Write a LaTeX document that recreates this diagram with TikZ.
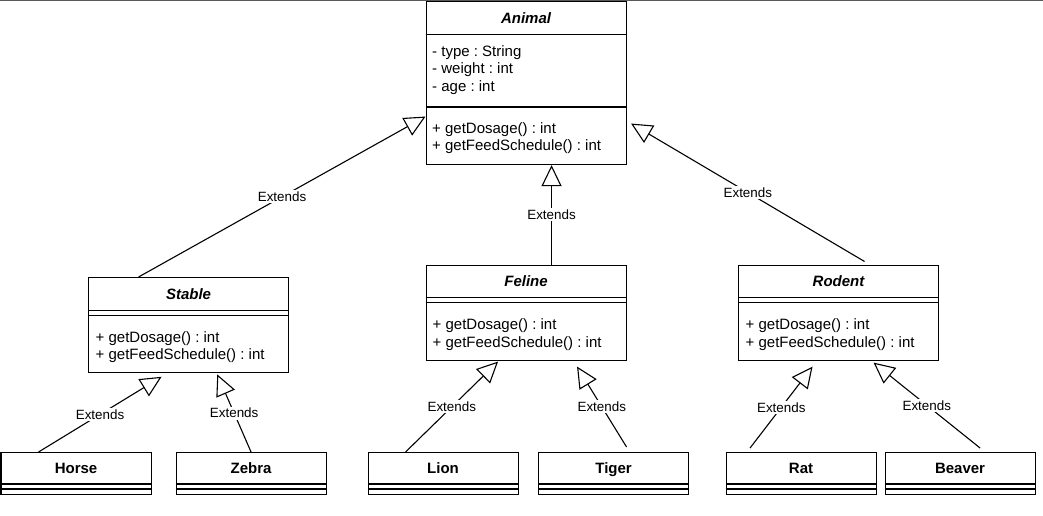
\documentclass[tikz,border=0pt]{standalone}
\usepackage{fontspec}
\setmainfont{Liberation Sans}
\usetikzlibrary{arrows.meta,positioning}
\frenchspacing

\tikzset{
  cls/.style={draw, line width=1.1pt, inner sep=0pt, anchor=north west, minimum width=200pt, minimum height=95pt},
  leaf/.style={cls, minimum width=150pt, minimum height=42pt},
  head/.style={inner sep=0pt, minimum height=33pt, text height=11pt, text depth=0pt, anchor=north, font=\fontsize{15}{18}\selectfont\bfseries\itshape},
  leafhead/.style={head, minimum height=32pt, font=\fontsize{15}{18}\selectfont\bfseries},
  member/.style={inner sep=0pt, anchor=base west, font=\fontsize{15}{18}\selectfont},
  sep/.style={line width=1.1pt},
  ext/.style={line width=1.1pt, -{Triangle[open, length=21pt, width=20pt, line width=1.1pt]}},
  lbl/.style={fill=white, inner sep=1.5pt, font=\fontsize{13.4}{16}\selectfont}
}

\begin{document}
\begin{tikzpicture}[x=1pt, y=-1pt]
\useasboundingbox (0,0) rectangle (1043,516);
\draw [gray!70!black] (0,0.5) -- (1043,0.5);

% Animal
\node [cls, minimum height=163pt] (animal) at (425.5,1) {};
\node [head] (animalhead) at (animal.north) {Animal};
\draw [sep] (animal.west |- animalhead.south) -- (animal.east |- animalhead.south);
\draw [sep] (animal.west |- 0,107) -- (animal.east |- 0,107);
\node [member] (atype) at (432,56.5) {- type : String};
\node [member] (aweight) at (432,74) {- weight : int};
\node [member] (aage) at (432,91.5) {- age : int};
\node [member] (adosage) at (432,133.3) {+ getDosage() : int};
\node [member] (afeed) at (432,150.8) {+ getFeedSchedule() : int};

% Stable
\node [cls] (stable) at (88,277) {};
\node [head] (stablehead) at (stable.north) {Stable};
\draw [sep] (stable.west |- stablehead.south) -- (stable.east |- stablehead.south);
\draw [sep] ([yshift=-5pt]stable.west |- stablehead.south) -- ([yshift=-5pt]stable.east |- stablehead.south);
\node [member] (sdosage) at (95.5,342) {+ getDosage() : int};
\node [member] (sfeed) at (95.5,359.5) {+ getFeedSchedule() : int};

% Feline
\node [cls] (feline) at (425.5,264.5) {};
\node [head] (felinehead) at (feline.north) {Feline};
\draw [sep] (feline.west |- felinehead.south) -- (feline.east |- felinehead.south);
\draw [sep] ([yshift=-5pt]feline.west |- felinehead.south) -- ([yshift=-5pt]feline.east |- felinehead.south);
\node [member] (fdosage) at (432.5,329.5) {+ getDosage() : int};
\node [member] (ffeed) at (432.5,347) {+ getFeedSchedule() : int};

% Rodent
\node [cls] (rodent) at (738,264.5) {};
\node [head] (rodenthead) at (rodent.north) {Rodent};
\draw [sep] (rodent.west |- rodenthead.south) -- (rodent.east |- rodenthead.south);
\draw [sep] ([yshift=-5pt]rodent.west |- rodenthead.south) -- ([yshift=-5pt]rodent.east |- rodenthead.south);
\node [member] (rdosage) at (745.5,329.5) {+ getDosage() : int};
\node [member] (rfeed) at (745.5,347) {+ getFeedSchedule() : int};

% Leaf classes
\node [leaf] (horse) at (0.5,452) {};
\node [leafhead] (horsehead) at (horse.north) {Horse};
\node [leaf] (zebra) at (175.5,452) {};
\node [leafhead] (zebrahead) at (zebra.north) {Zebra};
\node [leaf] (lion) at (367.5,452) {};
\node [leafhead] (lionhead) at (lion.north) {Lion};
\node [leaf] (tiger) at (538,452) {};
\node [leafhead] (tigerhead) at (tiger.north) {Tiger};
\node [leaf] (rat) at (725.5,452) {};
\node [leafhead] (rathead) at (rat.north) {Rat};
\node [leaf] (beaver) at (884.5,452) {};
\node [leafhead] (beaverhead) at (beaver.north) {Beaver};

% double lines under leaf names
\draw [sep] (horse.west |- 0,484) -- (horse.east |- 0,484) (horse.west |- 0,489) -- (horse.east |- 0,489);
\draw [sep] (zebra.west |- 0,484) -- (zebra.east |- 0,484) (zebra.west |- 0,489) -- (zebra.east |- 0,489);
\draw [sep] (lion.west |- 0,484) -- (lion.east |- 0,484) (lion.west |- 0,489) -- (lion.east |- 0,489);
\draw [sep] (tiger.west |- 0,484) -- (tiger.east |- 0,484) (tiger.west |- 0,489) -- (tiger.east |- 0,489);
\draw [sep] (rat.west |- 0,484) -- (rat.east |- 0,484) (rat.west |- 0,489) -- (rat.east |- 0,489);
\draw [sep] (beaver.west |- 0,484) -- (beaver.east |- 0,484) (beaver.west |- 0,489) -- (beaver.east |- 0,489);

% Extends to Animal
\draw [ext] ([xshift=-50pt]stable.north) -- node [lbl] (extstable) {Extends} ([yshift=-33.5pt]animal.west);
\draw [ext] ([xshift=25.5pt]feline.north) -- node [lbl] (extfeline) {Extends} ([xshift=25.5pt]animal.south);
\draw [ext] ([xshift=26pt,yshift=3pt]rodent.north) -- node [lbl] (extrodent) {Extends} ([xshift=4.5pt,yshift=-40.5pt]animal.east);

% Extends to Stable, Feline, Rodent
\draw [ext] ([xshift=-37.5pt]horse.north) -- node [lbl] (exthorse) {Extends} ([xshift=-27pt,yshift=-3.7pt]stable.south);
\draw [ext] (zebra.north) -- node [lbl] (extzebra) {Extends} ([xshift=28.7pt,yshift=-1.3pt]stable.south);
\draw [ext] ([xshift=-37.5pt]lion.north) -- node [lbl] (extlion) {Extends} ([xshift=-28pt,yshift=-1pt]feline.south);
\draw [ext] ([xshift=13pt,yshift=5pt]tiger.north) -- node [lbl] (exttiger) {Extends} ([xshift=51pt,yshift=-6pt]feline.south);
\draw [ext] ([xshift=-51pt,yshift=4pt]rat.north) -- node [lbl] (extrat) {Extends} ([xshift=-26pt,yshift=-6pt]rodent.south);
\draw [ext] ([xshift=20pt,yshift=4pt]beaver.north) -- node [lbl] (extbeaver) {Extends} ([xshift=35pt,yshift=-2pt]rodent.south);

\end{tikzpicture}
\end{document}
